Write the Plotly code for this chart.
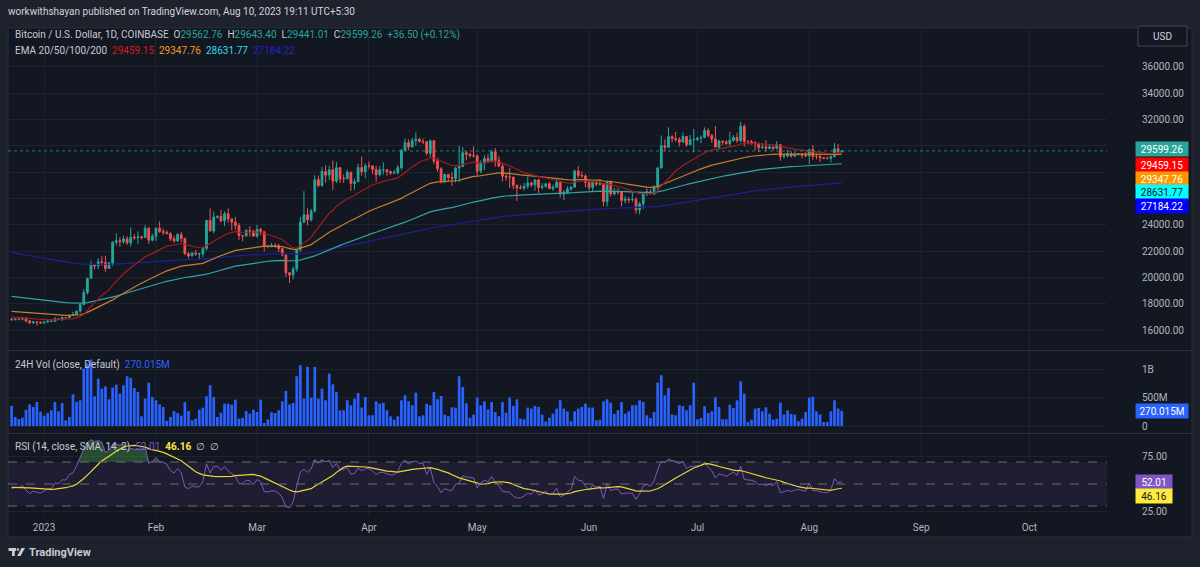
import pandas as pd
import plotly.graph_objects as go

# ---------------- data ----------------
first_day = "2022-12-23"
last_day = "2023-08-10"

opens = [
    16820,16780,16840,16830,16920,16700,16550,16630,16600,
    16540,16610,16670,16670,16850,16830,16950,16940,17120,17180,17440,17940,18850,19930,20960,20880,21190,21130,20680,21080,22670,22780,22710,22920,22630,23060,23010,23080,23030,23740,22830,
    23130,23730,23490,23430,23320,22930,22760,23250,22960,21800,21630,21860,21780,21790,22200,24330,23520,24580,24640,24290,24840,24440,24190,23940,23180,23160,23560,23490,
    23140,23650,23470,22360,22350,22430,22410,22200,21700,20360,20190,20630,22140,24200,24750,24380,25050,27420,26970,28040,27770,28170,27310,28330,27490,27490,27990,27130,27260,28350,28030,
    28470,28460,28200,27800,28170,28170,28040,27920,27950,28330,29650,30230,29900,30390,30490,30320,30310,29430,30380,28820,28250,27280,27820,27590,27510,28300,28420,29470,29340,29250,
    29230,28070,28680,29030,28850,29530,28900,28450,27690,27630,27620,26990,26800,26780,26930,27170,27030,27400,26830,26890,27110,26750,26850,27220,26330,26470,26720,26870,28080,27740,27700,
    27210,26820,27250,27070,27120,25760,27240,26340,26500,26480,25840,25940,25900,25920,25120,25580,26340,26510,26340,26850,28310,30000,29890,30690,30550,30470,30270,30700,30080,30450,
    30480,30590,30620,31160,30770,30510,29900,30350,30290,30170,30410,30620,30390,31470,30330,30300,30250,30140,29860,29910,29800,29910,29800,30080,29180,29230,29350,29220,29320,29360,29280,
    29230,29700,29180,29180,29090,29050,29040,29180,29770,29562.76,
]
highs = [
    16950,16870,16860,16940,16970,16780,16660,16640,16640,
    16630,16790,16760,16990,16880,17040,16970,17170,17390,17490,17990,19100,19970,21260,21030,21460,21620,21650,21190,22750,23350,23060,23160,23130,23800,23270,23490,23160,23960,23790,23300,
    23800,24250,23720,23580,23430,23150,23360,23450,23010,21930,21900,22090,21880,22320,24360,25250,25010,24700,25120,25020,25250,24480,24600,24130,23220,23680,23880,23590,
    23990,23780,23480,22420,22610,22600,22550,22260,21820,20370,20820,22180,24600,26550,25250,25200,27760,27740,28400,28520,28470,28880,28760,28390,27810,28190,28040,27510,28640,29180,28650,
    28810,28530,28480,28440,28740,28190,28100,28160,28520,29770,30550,30500,30610,31000,30620,30550,30320,30480,30400,29090,28370,27880,27820,28000,28400,30010,29890,29590,29460,29950,
    29330,28880,29270,29370,29690,29830,29190,28640,27840,28330,27630,27050,27020,27180,27650,27260,27470,27480,27160,27150,27270,27050,27490,27220,26630,26930,26890,28200,28450,28050,27830,
    27350,27300,27320,27450,27130,27350,27360,26800,26780,26530,26200,26090,26430,26080,25750,26470,26770,26690,26980,28400,30780,30490,31400,30800,31050,30650,31000,30710,30830,31280,
    30660,30790,31390,31330,30890,31500,30450,30380,30440,31050,30800,30990,31820,31640,30390,30440,30340,30240,30190,30420,30050,29990,30350,30100,29360,29690,29570,29530,29410,29440,29510,
    29730,30060,29400,29310,29110,29170,29250,30200,30140,29643.40,
]
lows = [
    16760,16780,16730,16790,16590,16480,16490,16340,16470,
    16490,16550,16600,16660,16760,16680,16910,16910,17100,17150,17310,17900,18700,19900,20600,20620,20890,20420,20670,20870,22420,22330,22550,22480,22350,22850,22550,22890,23000,22550,22730,
    22760,23390,23210,23260,22760,22630,22740,22680,21710,21460,21600,21640,21350,21540,22050,23510,23340,24460,24190,23880,24150,23580,23620,22850,22740,23090,23100,23080,
    23020,23200,21980,22200,22280,22270,21930,21600,20050,19570,19840,20420,21920,24100,23950,24240,24920,26870,26900,27200,27400,26640,27170,27170,27170,27450,26570,26660,27250,27720,27540,
    28250,27870,27250,27680,27820,27720,27780,27880,27810,28170,29610,29650,29880,30000,30240,30130,29270,29100,28600,28020,27130,27150,27340,26950,27200,27250,28390,28890,29090,29100,
    27680,27900,28150,28700,28800,28400,28400,27300,27360,26790,26700,25810,26690,26600,26740,26870,26590,26420,26680,26850,26710,26560,26800,26080,25870,26330,26560,26780,27550,27570,26850,
    26610,26520,26920,26970,25400,25380,26130,26220,26290,25400,25620,25640,25730,24850,24790,25190,26170,26300,26250,26650,28280,29560,29810,30250,30300,29930,30230,29920,30040,29500,
    30330,30200,30580,30640,30220,29850,29710,30050,30070,29950,30300,30210,30260,29940,30250,30070,29660,29510,29760,29560,29720,29640,29730,28860,29040,29100,29100,29130,29260,29040,29130,
    28590,28930,28960,28760,28970,28960,28720,29120,29370,29441.01,
]
closes = [
    16780,16840,16830,16920,16700,16550,16630,16600,16540,
    16610,16670,16670,16850,16830,16950,16940,17120,17180,17440,17940,18850,19930,20960,20880,21190,21130,20680,21080,22670,22780,22710,22920,22630,23060,23010,23080,23030,23740,22830,23130,
    23730,23490,23430,23320,22930,22760,23250,22960,21800,21630,21860,21780,21790,22200,24330,23520,24580,24640,24290,24840,24440,24190,23940,23180,23160,23560,23490,23140,
    23650,23470,22360,22350,22430,22410,22200,21700,20360,20190,20630,22140,24200,24750,24380,25050,27420,26970,28040,27770,28170,27310,28330,27490,27490,27990,27130,27260,28350,28030,28470,
    28460,28200,27800,28170,28170,28040,27920,27950,28330,29650,30230,29900,30390,30490,30320,30310,29430,30380,28820,28250,27280,27820,27590,27510,28300,28420,29470,29340,29250,29230,
    28070,28680,29030,28850,29530,28900,28450,27690,27630,27620,26990,26800,26780,26930,27170,27030,27400,26830,26890,27110,26750,26850,27220,26330,26470,26720,26870,28080,27740,27700,27210,
    26820,27250,27070,27120,25760,27240,26340,26500,26480,25840,25940,25900,25920,25120,25580,26340,26510,26340,26850,28310,30000,29890,30690,30550,30470,30270,30700,30080,30450,30480,
    30590,30620,31160,30770,30510,29900,30350,30290,30170,30410,30620,30390,31470,30330,30300,30250,30140,29860,29910,29800,29910,29800,30080,29180,29230,29350,29220,29320,29360,29280,29230,
    29700,29180,29180,29090,29050,29040,29180,29770,29562.76,29599.26,
]
# 24H volume, millions of USD
volumes_m = [
    358,161,125,149,292,387,340,429,256,185,232,280,429,262,411,101,161,566,429,459,
    1025,1115,1186,530,846,667,709,477,685,739,578,727,888,858,679,608,173,489,775,518,
    459,387,340,89,161,268,232,185,429,268,101,131,292,328,530,727,518,161,238,399,
    399,381,471,131,143,268,220,292,250,471,54,119,244,232,280,441,626,387,411,888,
    1085,489,1055,507,1055,489,667,459,936,745,608,280,280,459,370,489,590,330,518,191,
    191,441,399,417,280,173,113,173,
    459,548,441,370,596,173,191,393,370,608,477,536,203,173,334,328,888,697,405,149,
    203,507,370,441,298,429,250,173,429,238,507,358,477,131,119,328,310,358,340,203,
    83,149,220,310,459,310,262,83,262,310,340,399,328,328,101,113,441,477,417,215,
    280,429,220,262,370,370,459,429,191,143,250,775,906,548,679,203,191,370,358,280,
    370,775,119,143,352,232,262,513,340,119,119,381,322,459,799,578,72,113,310,322,
    262,334,220,113,131,417,203,280,215,203,83,131,250,507,524,262,209,72,72,262,
    459,310,270.015,
]

ema_periods = [20, 50, 100, 200]
ema_seeds = [17000, 17450, 18590, 21930]          # EMA levels read at the first bar
ema_last_read = [29459.15, 29347.76, 28631.77, 27184.22]
rsi_seed_gain, rsi_seed_loss = 95.0, 110.0        # warm-up state read from first RSI level
rsi_sma_seed = 47.0
rsi_last_read, rsi_sma_last_read = 52.01, 46.16

price_ticks = [16000, 18000, 20000, 22000, 24000, 26000, 28000, 30000, 32000, 34000, 36000]
vol_ticks = [0, 500, 1000]
vol_tick_text = ["0", "500M", "1B"]
rsi_ticks = [25, 75]
rsi_tick_text = ["25.00", "75.00"]
month_ticks = ["2023-01-01", "2023-02-01", "2023-03-01", "2023-04-01", "2023-05-01",
               "2023-06-01", "2023-07-01", "2023-08-01", "2023-09-01", "2023-10-01"]
month_text = ["2023", "Feb", "Mar", "Apr", "May", "Jun", "Jul", "Aug", "Sep", "Oct"]

# ---------------- indicators ----------------
dates = pd.date_range(first_day, last_day, freq="D")


def ema(vals, period, seed):
    a = 2.0 / (period + 1)
    out, e = [], seed
    for v in vals:
        e = a * v + (1 - a) * e
        out.append(e)
    return out


def wilder_rsi(vals, n, prev, g0, l0):
    ag, al, out = g0, l0, []
    for v in vals:
        ch = v - prev
        ag = (ag * (n - 1) + max(ch, 0)) / n
        al = (al * (n - 1) + max(-ch, 0)) / n
        out.append(100 - 100 / (1 + ag / al))
        prev = v
    return out


emas = [ema(closes, p, s) for p, s in zip(ema_periods, ema_seeds)]
rsi = wilder_rsi(closes, 14, opens[0], rsi_seed_gain, rsi_seed_loss)
ext = [rsi_sma_seed] * 13 + rsi
rsi_sma = [sum(ext[i:i + 14]) / 14 for i in range(len(rsi))]

# ---------------- layout geometry (pixels) ----------------
W, H = 1200, 567
ML, MR, MT, MB = 8, 93, 28, 52
PW, PH = W - ML - MR, H - MT - MB


def pxx(px):
    return (px - ML) / PW


def pxy(py):
    return (H - MB - py) / PH


BG = "#131722"
OUTER = "#1e222d"
GRID = "#1f2330"
TXT = "#b2b5be"
HEAD = "#c7cad2"
FONT = "Roboto, Arial, sans-serif"
FS = 10
UP, DOWN = "#26a69a", "#ef5350"
ema_line_colors = ["#a11d1d", "#c57f2c", "#2fa6a6", "#1f1f94"]
ema_label_colors = ["#ff0000", "#ff9800", "#00ffff", "#0000ff"]
ema_head_colors = ["#d61a1a", "#f59a23", "#2fdcea", "#2323c8"]

# price labels hidden behind the last-value tags (grid lines stay)
hidden_price_ticks = [26000, 28000, 30000]
price_tick_text = ["" if t in hidden_price_ticks else "%.2f" % t for t in price_ticks]

fig = go.Figure()

fig.add_trace(go.Candlestick(
    x=dates, open=opens, high=highs, low=lows, close=closes,
    increasing=dict(line=dict(color=UP, width=1), fillcolor=UP),
    decreasing=dict(line=dict(color=DOWN, width=1), fillcolor=DOWN),
    whiskerwidth=0, xaxis="x", yaxis="y", hoverinfo="skip"))

for i in [3, 2, 1, 0]:
    fig.add_trace(go.Scatter(x=dates, y=emas[i], mode="lines",
                             line=dict(color=ema_line_colors[i], width=1.2),
                             xaxis="x", yaxis="y", hoverinfo="skip"))

fig.add_trace(go.Bar(x=dates, y=volumes_m, marker=dict(color="#2962ff", line=dict(width=0)),
                     xaxis="x2", yaxis="y2", hoverinfo="skip"))

ob = [max(r, 70) for r in rsi]
osv = [min(r, 30) for r in rsi]
fig.add_trace(go.Scatter(x=dates, y=[70] * len(rsi), mode="lines", line=dict(width=0),
                         xaxis="x3", yaxis="y3", hoverinfo="skip"))
fig.add_trace(go.Scatter(x=dates, y=ob, mode="lines", line=dict(width=0), fill="tonexty",
                         fillcolor="rgba(76,175,80,0.35)", xaxis="x3", yaxis="y3", hoverinfo="skip"))
fig.add_trace(go.Scatter(x=dates, y=[30] * len(rsi), mode="lines", line=dict(width=0),
                         xaxis="x3", yaxis="y3", hoverinfo="skip"))
fig.add_trace(go.Scatter(x=dates, y=osv, mode="lines", line=dict(width=0), fill="tonexty",
                         fillcolor="rgba(242,54,69,0.3)", xaxis="x3", yaxis="y3", hoverinfo="skip"))
fig.add_trace(go.Scatter(x=dates, y=rsi, mode="lines", line=dict(color="#7e57c2", width=1),
                         xaxis="x3", yaxis="y3", hoverinfo="skip"))
fig.add_trace(go.Scatter(x=dates, y=rsi_sma, mode="lines", line=dict(color="#e8d53a", width=1.2),
                         xaxis="x3", yaxis="y3", hoverinfo="skip"))

x_range = ["2022-12-22 00:00", "2023-10-22 12:00"]
xcommon = dict(range=x_range, type="date", tickvals=month_ticks, ticktext=month_text,
               showgrid=True, gridcolor=GRID, gridwidth=1, zeroline=False, showline=False,
               tickfont=dict(color=TXT, size=FS, family=FONT), fixedrange=True)
ycommon = dict(side="right", showgrid=True, gridcolor=GRID, zeroline=False, showline=False,
               tickfont=dict(color=TXT, size=FS, family=FONT), ticks="", ticklabelstandoff=34,
               fixedrange=True)

fig.update_layout(
    width=W, height=H, margin=dict(l=ML, r=MR, t=MT, b=MB),
    paper_bgcolor=OUTER, plot_bgcolor="rgba(0,0,0,0)",
    showlegend=False, hovermode=False, dragmode=False,
    font=dict(family=FONT, color=TXT, size=FS),
    bargap=0.25,
    xaxis=dict(xcommon, anchor="y", showticklabels=False, rangeslider=dict(visible=False)),
    xaxis2=dict(xcommon, anchor="y2", matches="x", showticklabels=False),
    xaxis3=dict(xcommon, anchor="y3", matches="x", showticklabels=True, ticklabelstandoff=5),
    yaxis=dict(ycommon, domain=[pxy(350), 1], range=[14489, 38939], tickvals=price_ticks,
               ticktext=price_tick_text),
    yaxis2=dict(ycommon, domain=[pxy(433), pxy(351)], range=[-125, 1339], tickvals=vol_ticks,
                ticktext=vol_tick_text),
    yaxis3=dict(ycommon, domain=[0, pxy(434)], range=[21.82, 95.45], tickvals=rsi_ticks,
                ticktext=rsi_tick_text),
)

shapes = []
# chart container
shapes.append(dict(type="rect", xref="paper", yref="paper", x0=pxx(8), x1=pxx(1192),
                   y0=pxy(537), y1=pxy(28), fillcolor=BG, line=dict(color="#2a2e39", width=1),
                   layer="below"))
for py in [350.5, 433.5]:
    shapes.append(dict(type="line", xref="paper", yref="paper", x0=pxx(8), x1=pxx(1192),
                       y0=pxy(py), y1=pxy(py), line=dict(color="#2a2e39", width=1)))
# RSI band
shapes.append(dict(type="rect", xref="x3 domain", yref="y3", x0=0, x1=1, y0=30, y1=70,
                   fillcolor="rgba(126,87,194,0.10)", line=dict(width=0), layer="below"))
for lvl in [70, 50, 30]:
    shapes.append(dict(type="line", xref="x3 domain", yref="y3", x0=0, x1=1, y0=lvl, y1=lvl,
                       line=dict(color="#6a6d78", width=1, dash="dash")))
# last price line
shapes.append(dict(type="line", xref="x domain", yref="y", x0=0, x1=1, y0=closes[-1],
                   y1=closes[-1], line=dict(color="rgba(38,166,154,0.7)", width=1, dash="dot")))
# USD box
shapes.append(dict(type="rect", xref="paper", yref="paper", x0=pxx(1138), x1=pxx(1187),
                   y0=pxy(46), y1=pxy(26), fillcolor=BG, line=dict(color="#434651", width=1)))
# TradingView logo (simplified)
LOGO = "#c8cbd2"
shapes.append(dict(type="rect", xref="paper", yref="paper", x0=pxx(8.5), x1=pxx(16),
                   y0=pxy(551), y1=pxy(548), fillcolor=LOGO, line=dict(width=0)))
shapes.append(dict(type="rect", xref="paper", yref="paper", x0=pxx(12), x1=pxx(14.8),
                   y0=pxy(556), y1=pxy(548), fillcolor=LOGO, line=dict(width=0)))
shapes.append(dict(type="circle", xref="paper", yref="paper", x0=pxx(16.6), x1=pxx(19.2),
                   y0=pxy(550.8), y1=pxy(548.2), fillcolor=LOGO, line=dict(width=0)))
shapes.append(dict(type="path", xref="paper", yref="paper",
                   path="M %f,%f L %f,%f L %f,%f L %f,%f Z" % (
                       pxx(21.5), pxy(548), pxx(25), pxy(548), pxx(20.5), pxy(556),
                       pxx(17.2), pxy(556)),
                   fillcolor=LOGO, line=dict(width=0)))
fig.update_layout(shapes=shapes)

ann = []


def text_at(px, py, txt, size=FS, color=TXT, xanchor="left"):
    ann.append(dict(xref="paper", yref="paper", x=pxx(px), y=pxy(py), text=txt,
                    showarrow=False, xanchor=xanchor, yanchor="middle",
                    font=dict(size=size, color=color, family=FONT)))


def sp(txt, color):
    return '<span style="color:%s">%s</span>' % (color, txt)


text_at(6, 12, "workwithshayan published on TradingView.com, Aug 10, 2023 19:11 UTC+5:30",
        size=10, color="#d1d4dc")
chg = closes[-1] - closes[-2]
pct = chg / closes[-2] * 100
line1 = ("Bitcoin / U.S. Dollar, 1D, COINBASE&nbsp;&nbsp;O" + sp("%.2f" % opens[-1], UP) +
         "&nbsp;&nbsp;H" + sp("%.2f" % highs[-1], UP) +
         "&nbsp;&nbsp;L" + sp("%.2f" % lows[-1], UP) +
         "&nbsp;&nbsp;C" + sp("%.2f" % closes[-1], UP) +
         "&nbsp;&nbsp;" + sp("%+.2f (%+.2f%%)" % (chg, pct), UP))
text_at(13, 35, line1, color=HEAD)
line2 = "EMA 20/50/100/200&nbsp;&nbsp;" + "&nbsp;&nbsp;".join(
    sp("%.2f" % v, c) for v, c in zip(ema_last_read, ema_head_colors))
text_at(13, 50, line2, color=HEAD)
text_at(13, 365, "24H Vol (close, Default)&nbsp;&nbsp;" + sp("%.3fM" % volumes_m[-1], "#2962ff"),
        color=HEAD)
text_at(13, 447, "RSI (14, close, SMA, 14, 2)&nbsp;&nbsp;" + sp("%.2f" % rsi_last_read, "#7e57c2") +
        "&nbsp;&nbsp;" + sp("<b>%.2f</b>" % rsi_sma_last_read, "#ffeb3b") + "&nbsp;&nbsp;∅&nbsp;&nbsp;∅",
        color=HEAD)
text_at(1162.5, 36, "USD", size=FS, color="#d1d4dc", xanchor="center")
text_at(27, 552, "<b>TradingView</b>", size=11, color=LOGO)


def tag(py, txt, bg, fg, width):
    ann.append(dict(xref="paper", yref="paper", x=pxx(1135), y=pxy(py), text=txt,
                    showarrow=False, xanchor="left", yanchor="middle", align="center",
                    bgcolor=bg, width=width, height=10, borderpad=2,
                    font=dict(size=FS, color=fg, family=FONT)))


tag(149.5, "%.2f" % closes[-1], UP, "#ffffff", 48)
tag(165, "%.2f" % ema_last_read[0], ema_label_colors[0], "#ffffff", 48)
tag(178.5, "%.2f" % ema_last_read[1], ema_label_colors[1], "#ffffff", 48)
tag(192, "%.2f" % ema_last_read[2], ema_label_colors[2], "#131722", 48)
tag(206.5, "%.2f" % ema_last_read[3], ema_label_colors[3], "#ffffff", 48)
tag(411, "%.3fM" % volumes_m[-1], "#2962ff", "#ffffff", 48)
tag(481.5, "%.2f" % rsi_last_read, "#7e57c2", "#ffffff", 32)
tag(496, "%.2f" % rsi_sma_last_read, "#ffeb3b", "#131722", 32)

fig.update_layout(annotations=ann)
fig.write_html("out.html", config={"displayModeBar": False},
               post_script="document.body.style.margin='0';")
